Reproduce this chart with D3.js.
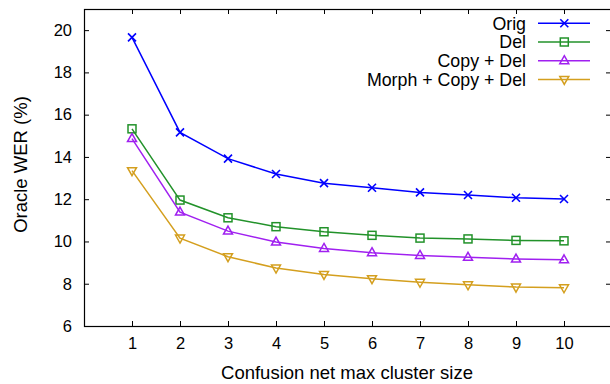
<!DOCTYPE html>
<html><head><meta charset="utf-8">
<script src="https://cdn.jsdelivr.net/npm/d3@7"></script>
<style>body{margin:0;background:#fff}svg{display:block;font-family:"Liberation Sans",Arial,Helvetica,sans-serif}</style>
</head><body><svg id="c" width="610" height="384"></svg>
<script>
const clusterSizes = [1,2,3,4,5,6,7,8,9,10];
const orig = [19.66,15.16,13.92,13.19,12.76,12.54,12.32,12.20,12.07,12.01];
const del = [15.33,11.96,11.12,10.70,10.46,10.29,10.16,10.12,10.05,10.03];
const copyDel = [14.87,11.39,10.49,9.97,9.67,9.47,9.34,9.25,9.17,9.13];
const morphCopyDel = [13.35,10.16,9.28,8.74,8.44,8.24,8.07,7.95,7.84,7.81];
const seriesNames = ["Orig","Del","Copy + Del","Morph + Copy + Del"];
const yTicks = [6,8,10,12,14,16,18,20];
const xTicks = [1,2,3,4,5,6,7,8,9,10];

const series = [
  {name: seriesNames[0], values: orig, color: "#0000ff", marker: "cross"},
  {name: seriesNames[1], values: del, color: "#22922a", marker: "square"},
  {name: seriesNames[2], values: copyDel, color: "#a020f0", marker: "tri"},
  {name: seriesNames[3], values: morphCopyDel, color: "#d49f1e", marker: "itri"}
];

const svg = d3.select("#c");
const L = 84, R = 612, T = 9, B = 326;
const x = d3.scaleLinear().domain([0,11]).range([L,R]);
const y = d3.scaleLinear().domain([6,21]).range([B,T]);
const tickLen = 5;
const tickFont = 16.5, labelFont = 18.5, legendFont = 17.8;

// axes (ticks inward)
svg.append("g").attr("transform",`translate(0,${B})`)
  .call(d3.axisBottom(x).tickValues(xTicks).tickSizeInner(-tickLen).tickSizeOuter(0).tickPadding(13))
  .call(g=>{g.select(".domain").remove();g.selectAll("text").attr("font-size",tickFont).attr("fill","#000").attr("dy","0.6em");g.selectAll("line").attr("stroke","#000");});
svg.append("g").attr("transform",`translate(0,${T})`)
  .call(d3.axisTop(x).tickValues(xTicks).tickSizeInner(-tickLen).tickSizeOuter(0).tickFormat(""))
  .call(g=>{g.select(".domain").remove();g.selectAll("line").attr("stroke","#000");});
svg.append("g").attr("transform",`translate(${L},0)`)
  .call(d3.axisLeft(y).tickValues(yTicks).tickSizeInner(-tickLen).tickSizeOuter(0).tickPadding(12))
  .call(g=>{g.select(".domain").remove();g.selectAll("text").attr("font-size",tickFont).attr("fill","#000");g.selectAll("line").attr("stroke","#000");});
svg.append("g").attr("transform",`translate(${R-1},0)`)
  .call(d3.axisRight(y).tickValues(yTicks).tickSizeInner(-tickLen).tickSizeOuter(0).tickFormat(""))
  .call(g=>{g.select(".domain").remove();g.selectAll("line").attr("stroke","#000");});

svg.append("rect").attr("x",L+0.5).attr("y",T+0.5).attr("width",R-L-1).attr("height",B-T)
  .attr("fill","none").attr("stroke","#000").attr("stroke-width",1.2);

// axis labels
svg.append("text").attr("x",(L+R)/2-1).attr("y",379).attr("text-anchor","middle")
  .attr("font-size",labelFont).text("Confusion net max cluster size");
svg.append("text").attr("transform",`translate(27,${(T+B)/2 - 3}) rotate(-90)`).attr("text-anchor","middle")
  .attr("font-size",labelFont).text("Oracle WER (%)");

function drawMarker(g, type, cx, cy, color){
  const s = 4;
  if(type==="cross"){
    g.append("path").attr("d",`M${cx-s},${cy-s}L${cx+s},${cy+s}M${cx-s},${cy+s}L${cx+s},${cy-s}`)
      .attr("stroke",color).attr("stroke-width",1.6).attr("fill","none");
  } else if(type==="square"){
    g.append("rect").attr("x",cx-s).attr("y",cy-s).attr("width",2*s).attr("height",2*s)
      .attr("stroke",color).attr("stroke-width",1.5).attr("fill","none");
  } else if(type==="tri"){
    g.append("path").attr("d",`M${cx},${cy-s-1}L${cx+s+0.5},${cy+s-1}L${cx-s-0.5},${cy+s-1}Z`)
      .attr("stroke",color).attr("stroke-width",1.5).attr("fill","none");
  } else {
    g.append("path").attr("d",`M${cx},${cy+s+1}L${cx+s+0.5},${cy-s+1}L${cx-s-0.5},${cy-s+1}Z`)
      .attr("stroke",color).attr("stroke-width",1.5).attr("fill","none");
  }
}

const line = d3.line().x((d,i)=>x(clusterSizes[i])).y(d=>y(d));
series.forEach(s=>{
  const g = svg.append("g");
  g.append("path").datum(s.values).attr("d",line).attr("fill","none")
    .attr("stroke",s.color).attr("stroke-width",1.5);
  s.values.forEach((v,i)=>drawMarker(g,s.marker,x(clusterSizes[i]),y(v),s.color));
});

// legend
const legTop = 23.3, legStep = 18.7;
series.forEach((s,i)=>{
  const cy = legTop + i*legStep;
  const g = svg.append("g");
  g.append("text").attr("x",526).attr("y",cy).attr("dy","0.36em").attr("text-anchor","end")
    .attr("font-size",legendFont).text(s.name);
  g.append("line").attr("x1",538).attr("x2",590).attr("y1",cy).attr("y2",cy)
    .attr("stroke",s.color).attr("stroke-width",1.5);
  drawMarker(g,s.marker,564.3,cy,s.color);
});
</script></body></html>
